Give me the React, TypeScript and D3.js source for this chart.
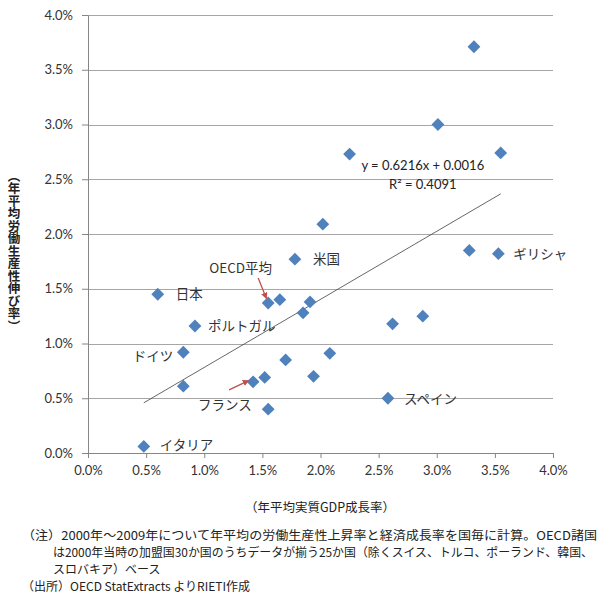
import * as d3 from "d3";
import { useEffect, useRef } from "react";

// annual average 2000-2009, in percent
const gdpGrowth = [0.6, 0.92, 0.82, 0.82, 1.55, 1.65, 1.7, 1.42, 1.52, 1.55, 0.48, 1.78, 1.91, 1.85, 2.62, 2.88, 2.08, 1.94, 2.58, 3.28, 3.53, 3.32, 3.01, 2.25, 3.55, 2.02];
const productivityGrowth = [1.45, 1.16, 0.92, 0.61, 1.37, 1.4, 0.85, 0.65, 0.69, 0.4, 0.06, 1.77, 1.38, 1.28, 1.18, 1.25, 0.91, 0.7, 0.5, 1.85, 1.82, 3.71, 3.0, 2.73, 2.74, 2.09];
const countryLabels = ["日本", "ポルトガル", "ドイツ", "", "OECD平均", "", "", "フランス", "", "", "イタリア", "米国", "", "", "", "", "", "", "スペイン", "", "ギリシャ", "", "", "", "", ""];

const xTicks = [0, 0.5, 1, 1.5, 2, 2.5, 3, 3.5, 4];
const yTicks = [0, 0.5, 1, 1.5, 2, 2.5, 3, 3.5, 4];

const trendSlope = 0.6216;
const trendIntercept = 0.0016;
const trendLabels = ["y = 0.6216x + 0.0016", "R² = 0.4091"];

const xTitle = "（年平均実質GDP成長率）";
const yTitle = "（年平均労働生産性伸び率）";
const notes = [
  "（注）2000年～2009年について年平均の労働生産性上昇率と経済成長率を国毎に計算。OECD諸国",
  "は2000年当時の加盟国30か国のうちデータが揃う25か国（除くスイス、トルコ、ポーランド、韓国、",
  "スロバキア）ベース",
  "（出所）OECD StatExtracts よりRIETI作成",
];

// label placement relative to its marker: [dx, dy, anchor]
const labelOffsets: Record<string, [number, number, string]> = {
  "日本": [18, 0, "start"],
  "ポルトガル": [13, 0, "start"],
  "ドイツ": [-10, 4, "end"],
  "フランス": [-55, 23, "start"],
  "イタリア": [16, -1, "start"],
  "OECD平均": [-59, -35, "start"],
  "米国": [18, 0, "start"],
  "スペイン": [16, 1, "start"],
  "ギリシャ": [15, 0, "start"],
};

const W = 610;
const H = 602;
const margin = { top: 15, right: 57, bottom: 149, left: 88 };
const blue = "#4F81BD";
const red = "#C0504D";
const jp = "'Noto Sans CJK JP', sans-serif";

const App = () => {
  const svgRef = useRef<SVGSVGElement | null>(null);

  useEffect(() => {
    const svg = d3.select(svgRef.current);
    svg.selectAll("*").remove();

    const width = W - margin.left - margin.right;
    const height = H - margin.top - margin.bottom;

    const x = d3.scaleLinear().domain([0, 4]).range([0, width]);
    const y = d3.scaleLinear().domain([0, 4]).range([height, 0]);

    const defs = svg.append("defs");
    defs
      .append("marker")
      .attr("id", "head")
      .attr("viewBox", "0 0 10 10")
      .attr("refX", 8)
      .attr("refY", 5)
      .attr("markerWidth", 5)
      .attr("markerHeight", 5)
      .attr("orient", "auto")
      .append("path")
      .attr("d", "M0,0L10,5L0,10Z")
      .attr("fill", red);

    const g = svg.append("g").attr("transform", `translate(${margin.left},${margin.top})`);

    // gridlines
    g.append("g")
      .selectAll("line")
      .data(yTicks.filter((t) => t > 0))
      .join("line")
      .attr("x1", 0)
      .attr("x2", width)
      .attr("y1", (d) => Math.round(y(d)) + 0.5)
      .attr("y2", (d) => Math.round(y(d)) + 0.5)
      .attr("stroke", "#A6A6A6")
      .attr("stroke-width", 1);

    // axes
    const yAxis = g
      .append("g")
      .call(
        d3
          .axisLeft(y)
          .tickValues(yTicks)
          .tickSize(6)
          .tickSizeOuter(0)
          .tickPadding(9)
          .tickFormat((d) => d3.format(".1f")(d as number) + "%")
      );
    const xAxis = g
      .append("g")
      .attr("transform", `translate(0,${height})`)
      .call(
        d3
          .axisBottom(x)
          .tickValues(xTicks)
          .tickSize(5)
          .tickSizeOuter(0)
          .tickPadding(8)
          .tickFormat((d) => d3.format(".1f")(d as number) + "%")
      );
    [xAxis, yAxis].forEach((ax) => {
      ax.select(".domain").attr("stroke", "#868686");
      ax.selectAll(".tick line").attr("stroke", "#868686");
      ax.selectAll(".tick text")
        .attr("fill", "#333")
        .style("font-family", "Lato, sans-serif")
        .style("font-size", "13px");
    });

    // trend line over the data range
    const [x0, x1] = d3.extent(gdpGrowth) as [number, number];
    const trend = (v: number) => trendSlope * v + trendIntercept * 100;
    g.append("line")
      .attr("x1", x(x0))
      .attr("y1", y(trend(x0)))
      .attr("x2", x(x1))
      .attr("y2", y(trend(x1)))
      .attr("stroke", "#404040")
      .attr("stroke-width", 0.8);

    g.append("text")
      .attr("x", x(2.88))
      .attr("y", y(2.58))
      .attr("text-anchor", "middle")
      .style("font-family", "Lato, sans-serif")
      .style("font-size", "13px")
      .attr("fill", "#222")
      .selectAll("tspan")
      .data(trendLabels)
      .join("tspan")
      .attr("x", x(2.88))
      .attr("dy", (d, i) => (i === 0 ? 0 : 19))
      .text((d) => d);

    // points
    const pts = gdpGrowth.map((v, i) => ({ gx: v, py: productivityGrowth[i], name: countryLabels[i] }));
    const diamond = "M0,-6.4L6.4,0L0,6.4L-6.4,0Z";
    g.append("g")
      .selectAll("path")
      .data(pts)
      .join("path")
      .attr("d", diamond)
      .attr("transform", (d) => `translate(${x(d.gx)},${y(d.py)})`)
      .attr("fill", blue);

    // country labels
    g.append("g")
      .selectAll("text")
      .data(pts.filter((d) => d.name))
      .join("text")
      .attr("x", (d) => x(d.gx) + labelOffsets[d.name][0])
      .attr("y", (d) => y(d.py) + labelOffsets[d.name][1])
      .attr("dy", "0.36em")
      .attr("text-anchor", (d) => labelOffsets[d.name][2])
      .style("font-family", jp)
      .style("font-size", "13.5px")
      .attr("fill", "#333")
      .text((d) => d.name);

    // annotation arrows
    const oecd = pts.find((d) => d.name === "OECD平均")!;
    const france = pts.find((d) => d.name === "フランス")!;
    const arrows = [
      { from: [x(oecd.gx) - 10, y(oecd.py) - 25], to: [x(oecd.gx) - 2, y(oecd.py) - 5] },
      { from: [x(france.gx) - 24, y(france.py) + 8], to: [x(france.gx) - 5, y(france.py) - 1] },
    ];
    g.append("g")
      .selectAll("line")
      .data(arrows)
      .join("line")
      .attr("x1", (d) => d.from[0])
      .attr("y1", (d) => d.from[1])
      .attr("x2", (d) => d.to[0])
      .attr("y2", (d) => d.to[1])
      .attr("stroke", red)
      .attr("stroke-width", 1.3)
      .attr("marker-end", "url(#head)");

    // axis titles
    svg.append("text")
      .attr("x", 320)
      .attr("y", 507)
      .attr("dy", "0.36em")
      .attr("text-anchor", "middle")
      .style("font-family", jp)
      .style("font-size", "12.5px")
      .attr("fill", "#222")
      .text(xTitle);

    svg.append("text")
      .attr("x", 14)
      .attr("y", 251)
      .attr("text-anchor", "middle")
      .style("writing-mode", "vertical-rl")
      .style("font-family", jp)
      .style("font-size", "12.5px")
      .style("font-weight", "bold")
      .attr("fill", "#222")
      .text(yTitle);

    // notes
    const noteX = [22, 53, 53, 22];
    const noteLen = [575, 540, 0, 0];
    svg.append("g")
      .selectAll("text")
      .data(notes)
      .join("text")
      .attr("x", (d, i) => noteX[i])
      .attr("y", (d, i) => 536 + i * 17)
      .attr("dy", "0.36em")
      .attr("textLength", (d, i) => (noteLen[i] ? noteLen[i] : null))
      .attr("lengthAdjust", "spacingAndGlyphs")
      .style("font-family", jp)
      .style("font-size", "12px")
      .attr("fill", "#222")
      .text((d) => d);
  }, []);

  return (
    <svg
      ref={svgRef}
      width={W}
      height={H}
      style={{ position: "absolute", left: 0, top: 0, background: "#fff" }}
    />
  );
};

export default App;
